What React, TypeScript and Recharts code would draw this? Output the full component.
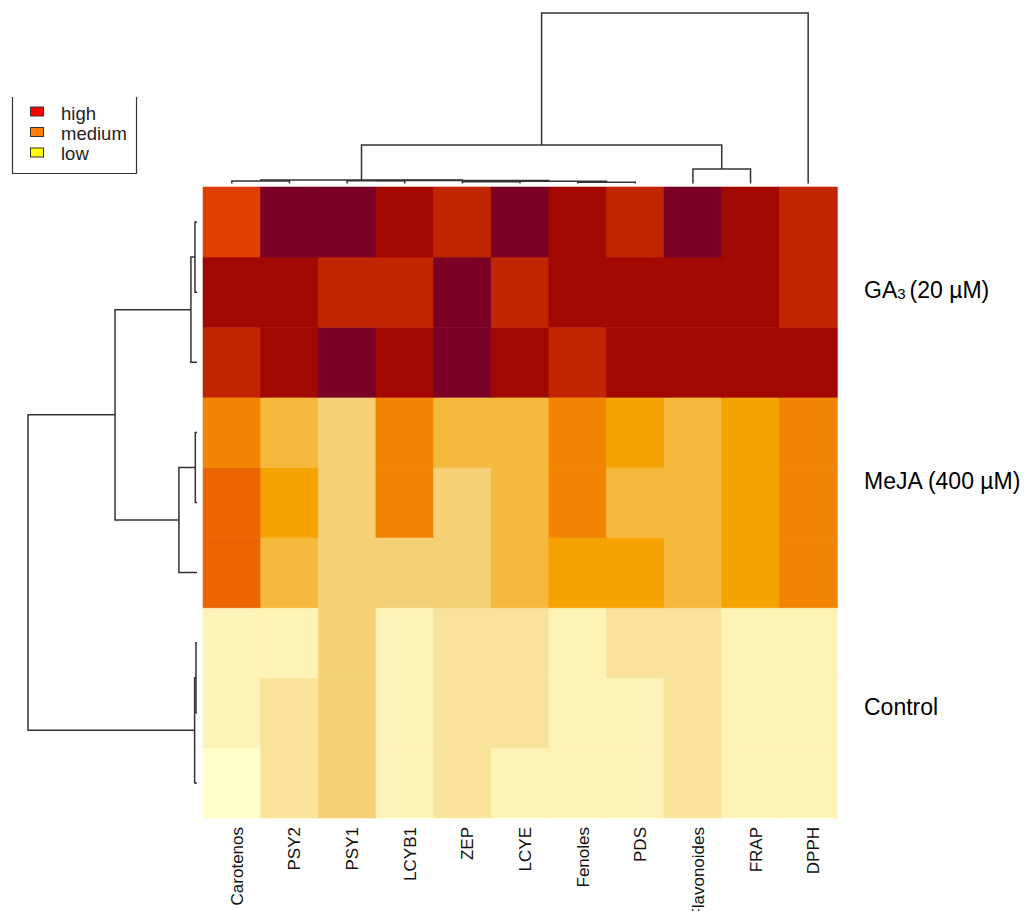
import React from 'react';
import { BarChart, Bar, XAxis, YAxis, Cell, ScatterChart, Scatter, Legend } from 'recharts';

// ---------- data ----------
const columns = ['Carotenos', 'PSY2', 'PSY1', 'LCYB1', 'ZEP', 'LCYE', 'Fenoles', 'PDS', 'Flavonoides', 'FRAP', 'DPPH'];
const rowGroups = ['GA3 (20 µM)', 'MeJA (400 µM)', 'Control'];

// colour level of each cell (0 = lowest, 11 = highest), rows top to bottom
const ga3Levels = [
  [8, 11, 11, 10, 9, 11, 10, 9, 11, 10, 9],
  [10, 10, 9, 9, 11, 9, 10, 10, 10, 10, 9],
  [9, 10, 11, 10, 11, 10, 9, 10, 10, 10, 10],
];
const mejaLevels = [
  [6, 4, 3, 6, 4, 4, 6, 5, 4, 5, 6],
  [7, 5, 3, 6, 3, 4, 6, 4, 4, 5, 6],
  [7, 4, 3, 3, 3, 4, 5, 5, 4, 5, 6],
];
const controlLevels = [
  [1, 1, 3, 1, 2, 2, 1, 2, 2, 1, 1],
  [1, 2, 3, 1, 2, 2, 1, 1, 2, 1, 1],
  [0, 2, 3, 1, 2, 1, 1, 1, 2, 1, 1],
];

const palette = [
  '#FFFFCC', '#FEF3B7', '#F9E39B', '#F6D077', '#F5B93D', '#F4A300',
  '#F18400', '#EC6500', '#E03D00', '#C12500', '#A10800', '#7B0026',
];

const legendLabels = ['high', 'medium', 'low'];
const legendColors = ['#FF0000', '#FF8000', '#FFFF00'];

// column dendrogram (hclust-style merge: negative = leaf in display order)
const colMerge = [[-1, -2], [-3, -4], [-5, -6], [-7, -8], [3, 4], [2, 5], [1, 6], [-9, -10], [7, 8], [9, -11]];
const colHeights = [0.14, 0.16, 0.1, 0.08, 0.13, 0.17, 0.2, 0.85, 2.26, 10];

// row dendrogram
const rowMerge = [[-1, -2], [1, -3], [-4, -5], [3, -6], [-7, -8], [5, -9], [2, 4], [7, 6]];
const rowHeights = [0.12, 0.36, 0.1, 1.07, 0.06, 0.14, 4.85, 10];

// positions (in row units, 0 = bottom) of the group labels on the right axis
const rowLabelTicks = [7.531, 4.8, 1.583];

// ---------- derived ----------
const allRows = [...ga3Levels, ...mejaLevels, ...controlLevels];
const nRows = allRows.length;

const heatData = columns.map((name) => {
  const o: any = { name };
  for (let r = 0; r < nRows; r++) o[`r${r}`] = 1;
  return o;
});

type Pt = { p: number; h: number };
function dendroSegments(merge: number[][], heights: number[]): Pt[][] {
  const pos: number[] = [];
  const hh: number[] = [];
  const get = (id: number) => (id < 0 ? { p: -id - 1 + 0.5, h: 0 } : { p: pos[id - 1], h: hh[id - 1] });
  const segs: Pt[][] = [];
  merge.forEach(([a, b], i) => {
    const A = get(a);
    const B = get(b);
    const H = heights[i];
    segs.push([
      { p: A.p, h: A.h },
      { p: A.p, h: H },
      { p: B.p, h: H },
      { p: B.p, h: B.h },
    ]);
    pos[i] = (A.p + B.p) / 2;
    hh[i] = H;
  });
  return segs;
}

const colSegs = dendroSegments(colMerge, colHeights);
const rowSegs = dendroSegments(rowMerge, rowHeights);

const FONT = '"Liberation Sans", Arial, sans-serif';
const LINE = { stroke: '#333', strokeWidth: 1.5 };

const ColTick = (props: any) => {
  const { x, y, payload } = props;
  return (
    <text
      transform={`translate(${x + 11},${y}) rotate(-90)`}
      x={0}
      y={0}
      textAnchor="end"
      fontSize={17}
      fontFamily={FONT}
      fill="#111"
    >
      {payload.value}
    </text>
  );
};

const RowTick = (props: any) => {
  const { x, y, payload } = props;
  const idx = rowLabelTicks.indexOf(payload.value);
  const label = rowGroups[idx];
  const fs = 23;
  if (label && label.startsWith('GA3')) {
    return (
      <text x={x} y={y + 8} fontSize={fs} fontFamily={FONT} fill="#000" textAnchor="start">
        GA
        <tspan fontSize={15} dy={1}>3</tspan>
        <tspan dy={-1} dx={4}>(20 µM)</tspan>
      </text>
    );
  }
  return (
    <text x={x} y={y + 8} fontSize={fs} fontFamily={FONT} fill="#000" textAnchor="start">
      {label}
    </text>
  );
};

const LegendBox = () => (
  <svg width={150} height={180} style={{ display: 'block' }}>
    <polyline points="12.5,97 12.5,173.5 136.5,173.5 136.5,97" fill="none" stroke="#333" strokeWidth={1.2} />
    {legendLabels.map((l, i) => (
      <g key={l}>
        <rect x={30.5} y={107 + i * 20.5} width={13} height={9} fill={legendColors[i]} stroke="#333" strokeWidth={1} />
        <text x={61} y={119.5 + i * 20.3} fontSize={18.5} fontFamily={FONT} fill="#222">
          {l}
        </text>
      </g>
    ))}
  </svg>
);

const noShape = () => <g />;

export default function App() {
  const rowOrder = Array.from({ length: nRows }, (_, i) => nRows - 1 - i);
  return (
    <div style={{ position: 'absolute', left: 0, top: 0, width: 1026, height: 911, background: '#fff', overflow: 'hidden' }}>
      <div style={{ position: 'absolute', left: 0, top: 0 }}>
        <BarChart
          width={1026}
          height={911}
          data={heatData}
          margin={{ top: 187, right: 9, bottom: 3, left: 203 }}
          barCategoryGap={0}
          barGap={0}
        >
          <XAxis
            dataKey="name"
            type="category"
            interval={0}
            height={90}
            tickLine={false}
            axisLine={false}
            tickSize={0}
            tickMargin={9}
            tick={(p: any) => <ColTick {...p} />}
          />
          <YAxis
            type="number"
            orientation="right"
            domain={[0, nRows]}
            width={180}
            ticks={rowLabelTicks}
            interval={0}
            tickLine={false}
            axisLine={false}
            tickSize={0}
            tickMargin={27}
            tick={(p: any) => <RowTick {...p} />}
          />
          {rowOrder.map((r) => (
            <Bar key={r} dataKey={`r${r}`} stackId="heat" isAnimationActive={false}>
              {columns.map((c, ci) => (
                <Cell key={c} fill={palette[allRows[r][ci]]} stroke={palette[allRows[r][ci]]} strokeWidth={0.6} />
              ))}
            </Bar>
          ))}
        </BarChart>
      </div>

      <div style={{ position: 'absolute', left: 0, top: 0 }}>
        <ScatterChart width={1026} height={200} margin={{ top: 13, right: 189, bottom: 16.5, left: 203 }}>
          <XAxis type="number" dataKey="p" domain={[0, columns.length]} hide />
          <YAxis type="number" dataKey="h" domain={[0, 10]} hide />
          {colSegs.map((s, i) => (
            <Scatter key={i} data={s} line={LINE} fill="none" shape={noShape} isAnimationActive={false} />
          ))}
        </ScatterChart>
      </div>

      <div style={{ position: 'absolute', left: 0, top: 0 }}>
        <ScatterChart width={300} height={911} margin={{ top: 187, right: 103, bottom: 93, left: 28 }}>
          <XAxis type="number" dataKey="h" domain={[0, 10]} reversed hide />
          <YAxis type="number" dataKey="p" domain={[0, nRows]} reversed hide />
          {rowSegs.map((s, i) => (
            <Scatter key={i} data={s} line={LINE} fill="none" shape={noShape} isAnimationActive={false} />
          ))}
          <Legend
            layout="vertical"
            align="center"
            verticalAlign="middle"
            wrapperStyle={{ left: 0, top: 0, width: 150, height: 180 }}
            content={() => <LegendBox />}
          />
        </ScatterChart>
      </div>
    </div>
  );
}
